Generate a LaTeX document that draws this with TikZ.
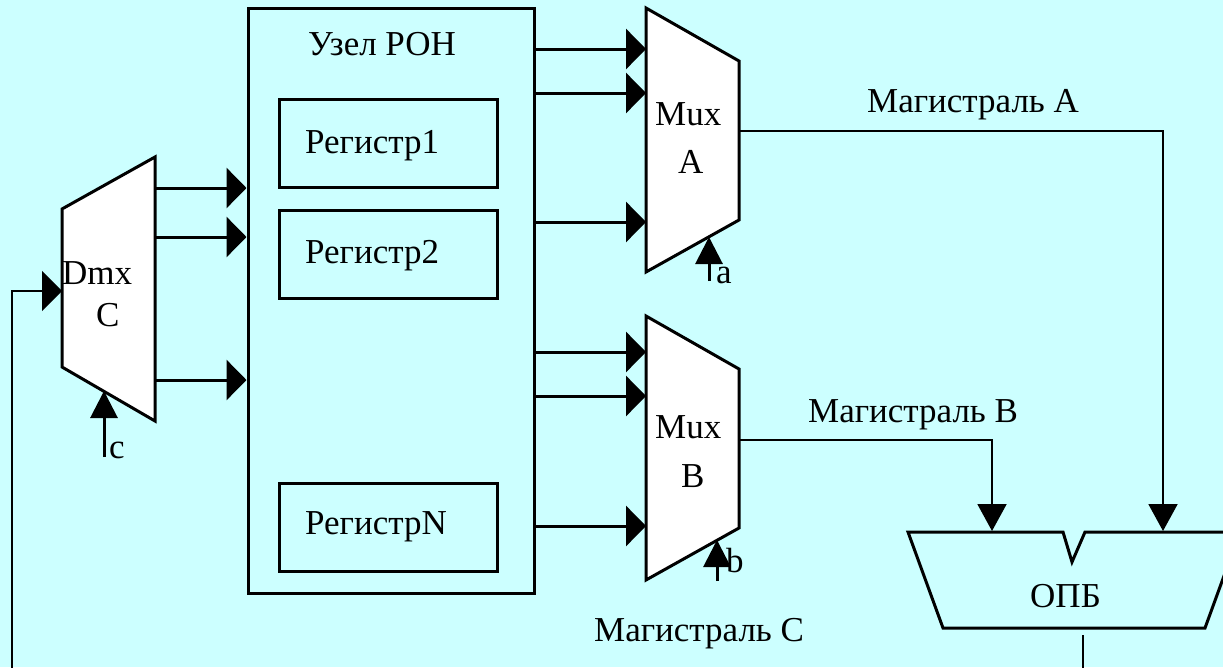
\documentclass[tikz,border=0pt]{standalone}
\usepackage{fontspec}
\setmainfont{Liberation Serif}
\usetikzlibrary{arrows.meta}
\definecolor{panel}{RGB}{204,255,255}

\begin{document}
\begin{tikzpicture}[x=1pt,y=-1pt,
  font=\fontsize{35}{42}\selectfont,
  txt/.style={inner sep=0pt,anchor=base west},
  outline/.style={line width=3pt,line join=miter},
  wire/.style={line width=3pt},
  bus/.style={line width=2pt},
  bigtip/.style={-{Triangle[length=20pt,width=40pt]}},
  ctrltip/.style={-{Triangle[length=27pt,width=27pt]}},
  bustip/.style={-{Triangle[length=27pt,width=29pt]}},
  regbox/.style={draw,outline,minimum width=218pt,minimum height=88pt,inner sep=0pt},
]
% page and background
\useasboundingbox (0,0) rectangle (1223,667);
\clip (0,0) rectangle (1223,667);
\fill[panel] (0,0) rectangle (1223,667);

% register file
\node[draw,outline,minimum width=286pt,minimum height=585pt,inner sep=0pt] (ron) at (391,300.5) {};
\node[txt] (ronlbl) at (308,55) {Узел РОН};
\node[regbox] (r1) at (388,143) {};
\node[regbox] (r2) at (388,254.5) {};
\node[regbox] (rn) at (388,527) {};
\node[txt] (r1lbl) at (305,153) {Регистр1};
\node[txt] (r2lbl) at (305,263) {Регистр2};
\node[txt] (rnlbl) at (305,534) {РегистрN};

% demultiplexer C
\draw[outline,fill=white] (62,209) coordinate (dmx-tl) -- (155,157) coordinate (dmx-tr)
  -- (155,421) coordinate (dmx-br) -- (62,367) coordinate (dmx-bl) -- cycle;
\node[txt] (dmxlbl) at (62,284) {Dmx};
\node[txt] (dmxc) at (96,326) {C};
\coordinate (dmx-in) at (62,291);
\coordinate (dmx-o1) at (155,188);
\coordinate (dmx-o2) at (155,237);
\coordinate (dmx-o3) at (155,380);
\coordinate (dmx-ctl) at (104,391);
\coordinate (c-src) at (104,457);
\node[txt] (clbl) at (109,458) {c};

% multiplexer A
\draw[outline,fill=white] (646,8) coordinate (ma-tl) -- (739,61) coordinate (ma-tr)
  -- (739,220) coordinate (ma-br) -- (646,272) coordinate (ma-bl) -- cycle;
\node[txt] (malbl) at (655,125) {Mux};
\node[txt] (maA) at (678,173) {A};
\coordinate (ma-i1) at (646,49);
\coordinate (ma-i2) at (646,93);
\coordinate (ma-i3) at (646,222);
\coordinate (ma-out) at (739,131);
\coordinate (ma-ctl) at (709,237);
\coordinate (a-src) at (709,281);
\node[txt] (albl) at (716,283) {a};

% multiplexer B
\draw[outline,fill=white] (646,316) coordinate (mb-tl) -- (739,369) coordinate (mb-tr)
  -- (739,528) coordinate (mb-br) -- (646,580) coordinate (mb-bl) -- cycle;
\node[txt] (mblbl) at (655,438) {Mux};
\node[txt] (mbB) at (681,487) {B};
\coordinate (mb-i1) at (646,352);
\coordinate (mb-i2) at (646,396);
\coordinate (mb-i3) at (646,526);
\coordinate (mb-out) at (739,440);
\coordinate (mb-ctl) at (717,540);
\coordinate (b-src) at (717,581);
\node[txt] (blbl) at (726,572) {b};

% ALU
\draw[outline] (908,532) -- (1063,532) -- (1072,562) -- (1085,532) -- (1240,532)
  -- (1205,628) -- (943,628) -- cycle;
\node[txt] (opb) at (1030,607) {ОПБ};
\coordinate (alu-b) at (992,531);
\coordinate (alu-a) at (1163,531);
\coordinate (alu-out) at (1083,635);

% bus labels
\node[txt] (busA) at (867,112) {Магистраль A};
\node[txt] (busB) at (808,422) {Магистраль B};
\node[txt] (busC) at (594,641) {Магистраль C};

% demultiplexer to registers
\draw[wire,bigtip] (dmx-o1) -- (dmx-o1 -| ron.west);
\draw[wire,bigtip] (dmx-o2) -- (dmx-o2 -| ron.west);
\draw[wire,bigtip] (dmx-o3) -- (dmx-o3 -| ron.west);

% registers to multiplexers
\draw[wire,bigtip] (ma-i1 -| ron.east) -- (ma-i1);
\draw[wire,bigtip] (ma-i2 -| ron.east) -- (ma-i2);
\draw[wire,bigtip] (ma-i3 -| ron.east) -- (ma-i3);
\draw[wire,bigtip] (mb-i1 -| ron.east) -- (mb-i1);
\draw[wire,bigtip] (mb-i2 -| ron.east) -- (mb-i2);
\draw[wire,bigtip] (mb-i3 -| ron.east) -- (mb-i3);

% control inputs
\draw[wire,ctrltip] (c-src) -- (dmx-ctl);
\draw[wire,ctrltip] (a-src) -- (ma-ctl);
\draw[wire,ctrltip] (b-src) -- (mb-ctl);

% buses A and B into the ALU
\draw[bus,bustip] (ma-out) -| (alu-a);
\draw[bus,bustip] (mb-out) -| (alu-b);

% bus C back to the demultiplexer
\coordinate (busC-low) at (1083,690);
\draw[bus,bigtip] (alu-out) -- (busC-low) -| (12,291) -- (dmx-in);
\end{tikzpicture}
\end{document}
